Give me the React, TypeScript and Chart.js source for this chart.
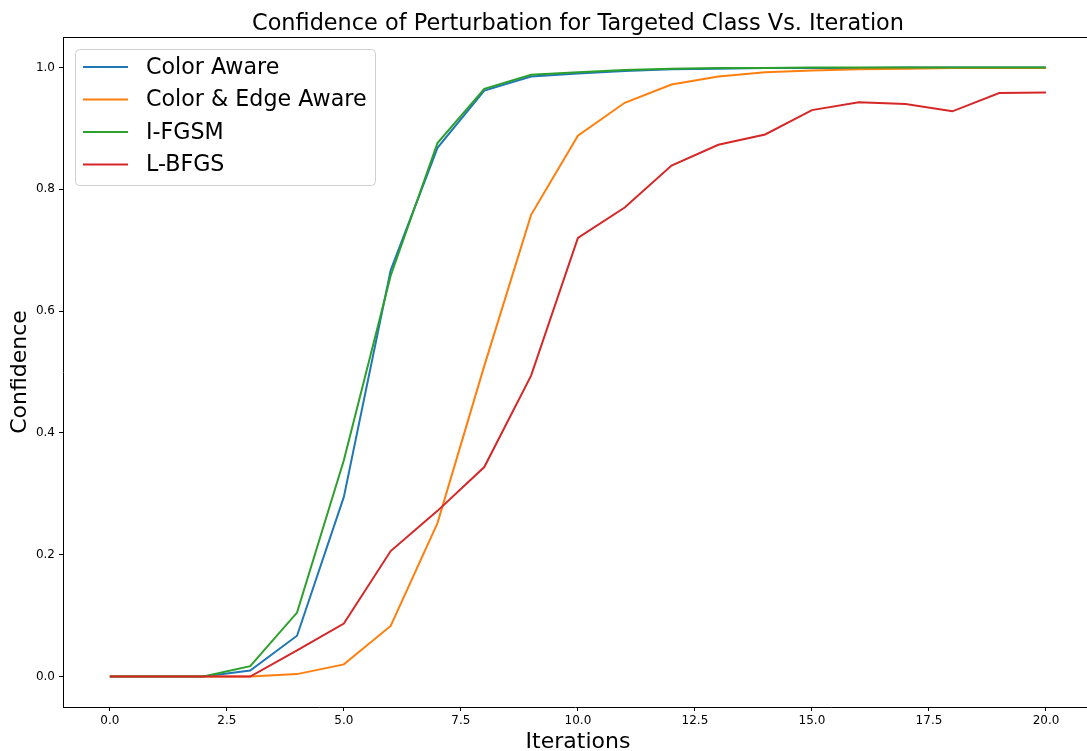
import React, { useEffect, useRef } from "react";
import { Chart, registerables } from "chart.js";

Chart.register(...registerables);

const iterations = [0, 1, 2, 3, 4, 5, 6, 7, 8, 9, 10, 11, 12, 13, 14, 15, 16, 17, 18, 19, 20];
const colorAware = [0, 0, 0, 0.010, 0.067, 0.295, 0.667, 0.868, 0.962, 0.985, 0.990, 0.994, 0.997, 0.998, 0.999, 0.999, 0.999, 1.0, 1.0, 1.0, 1.0];
const colorEdgeAware = [0, 0, 0, 0, 0.004, 0.020, 0.083, 0.252, 0.510, 0.758, 0.888, 0.942, 0.972, 0.985, 0.992, 0.995, 0.997, 0.998, 0.999, 0.999, 0.999];
const iFGSM = [0, 0, 0, 0.017, 0.105, 0.355, 0.658, 0.876, 0.965, 0.988, 0.992, 0.996, 0.998, 0.999, 0.999, 1.0, 1.0, 1.0, 1.0, 1.0, 1.0];
const lBFGS = [0, 0, 0, 0, 0.043, 0.087, 0.206, 0.272, 0.344, 0.494, 0.720, 0.770, 0.839, 0.873, 0.890, 0.930, 0.943, 0.940, 0.928, 0.958, 0.959];

const seriesNames = ["Color Aware", "Color & Edge Aware", "I-FGSM", "L-BFGS"];
const seriesColors = ["#1f77b4", "#ff7f0e", "#2ca02c", "#d62728"];
const xTicks = [0, 2.5, 5, 7.5, 10, 12.5, 15, 17.5, 20];
const yTicks = [0, 0.2, 0.4, 0.6, 0.8, 1.0];

const titleText = "Confidence of Perturbation for Targeted Class Vs. Iteration";
const xLabel = "Iterations";
const yLabel = "Confidence";

const FONT = "'DejaVu Sans', sans-serif";

const decorPlugin = {
  id: "decor",
  afterDraw(chart: any) {
    const { ctx, chartArea } = chart;
    const { left, top, right, bottom } = chartArea;
    ctx.save();
    // top spine
    ctx.strokeStyle = "#000";
    ctx.lineWidth = 1;
    ctx.beginPath();
    ctx.moveTo(left, top + 0.5);
    ctx.lineTo(right, top + 0.5);
    ctx.stroke();

    const axCenter = (left + 1093) / 2;
    // title
    ctx.fillStyle = "#000";
    ctx.font = `22.4px ${FONT}`;
    ctx.textAlign = "center";
    ctx.textBaseline = "alphabetic";
    ctx.fillText(titleText, axCenter, 30);

    // x label
    ctx.font = `22px ${FONT}`;
    ctx.fillText(xLabel, axCenter, 748);

    // y label
    ctx.save();
    ctx.translate(25.5, (top + bottom) / 2);
    ctx.rotate(-Math.PI / 2);
    ctx.fillText(yLabel, 0, 0);
    ctx.restore();

    // legend
    const lx = 75.5, ly = 49.5, lw = 300, lh = 136, r = 4;
    ctx.beginPath();
    ctx.moveTo(lx + r, ly);
    ctx.lineTo(lx + lw - r, ly);
    ctx.quadraticCurveTo(lx + lw, ly, lx + lw, ly + r);
    ctx.lineTo(lx + lw, ly + lh - r);
    ctx.quadraticCurveTo(lx + lw, ly + lh, lx + lw - r, ly + lh);
    ctx.lineTo(lx + r, ly + lh);
    ctx.quadraticCurveTo(lx, ly + lh, lx, ly + lh - r);
    ctx.lineTo(lx, ly + r);
    ctx.quadraticCurveTo(lx, ly, lx + r, ly);
    ctx.closePath();
    ctx.fillStyle = "rgba(255,255,255,0.8)";
    ctx.fill();
    ctx.strokeStyle = "#d0d0d0";
    ctx.lineWidth = 1;
    ctx.stroke();

    const rowYs = [67, 99.5, 132, 164.5];
    ctx.font = `22.2px ${FONT}`;
    ctx.textAlign = "left";
    ctx.textBaseline = "middle";
    seriesNames.forEach((name, i) => {
      ctx.strokeStyle = seriesColors[i];
      ctx.lineWidth = 2;
      ctx.beginPath();
      ctx.moveTo(83, rowYs[i]);
      ctx.lineTo(128, rowYs[i]);
      ctx.stroke();
      ctx.fillStyle = "#000";
      ctx.fillText(name, 146, rowYs[i] + 1);
    });
    ctx.restore();
  },
};

export default function App() {
  const ref = useRef<HTMLCanvasElement | null>(null);
  useEffect(() => {
    document.body.style.margin = "0";
    const series = [colorAware, colorEdgeAware, iFGSM, lBFGS];
    const datasets = series.map((vals, i) => ({
      label: seriesNames[i],
      data: iterations.map((x, j) => ({ x, y: vals[j] })),
      borderColor: seriesColors[i],
      backgroundColor: seriesColors[i],
      borderWidth: 2,
      pointRadius: 0,
      tension: 0,
      fill: false,
      order: 4 - i,
    }));
    const chart = new Chart(ref.current as HTMLCanvasElement, {
      type: "line",
      data: { datasets },
      options: {
        responsive: false,
        animation: false,
        layout: { padding: { top: 37, left: 0, right: 0, bottom: 0 } },
        plugins: { legend: { display: false }, tooltip: { enabled: false }, title: { display: false } },
        scales: {
          x: {
            type: "linear",
            min: -1,
            max: 20.876,
            afterBuildTicks: (s: any) => {
              s.ticks = xTicks.map((v) => ({ value: v }));
            },
            afterFit: (s: any) => {
              s.height = 44;
            },
            ticks: {
              color: "#000",
              font: { family: "DejaVu Sans", size: 12 },
              padding: 3,
              maxRotation: 0,
              autoSkip: false,
              callback: (v: any) => Number(v).toFixed(1),
            },
            grid: { drawOnChartArea: false, drawTicks: true, tickLength: 4, color: "#000" },
            border: { display: true, color: "#000", width: 1 },
          },
          y: {
            type: "linear",
            min: -0.05,
            max: 1.05,
            afterBuildTicks: (s: any) => {
              s.ticks = yTicks.map((v) => ({ value: v }));
            },
            afterFit: (s: any) => {
              s.width = 63;
            },
            ticks: {
              color: "#000",
              font: { family: "DejaVu Sans", size: 12 },
              padding: 4,
              autoSkip: false,
              callback: (v: any) => Number(v).toFixed(1),
            },
            grid: { drawOnChartArea: false, drawTicks: true, tickLength: 4, color: "#000" },
            border: { display: true, color: "#000", width: 1 },
          },
        },
      },
      plugins: [decorPlugin],
    } as any);
    return () => chart.destroy();
  }, []);
  return (
    <div style={{ width: 1087, height: 751, background: "#fff" }}>
      <canvas ref={ref} width={1087} height={751} style={{ display: "block", width: 1087, height: 751 }} />
    </div>
  );
}
